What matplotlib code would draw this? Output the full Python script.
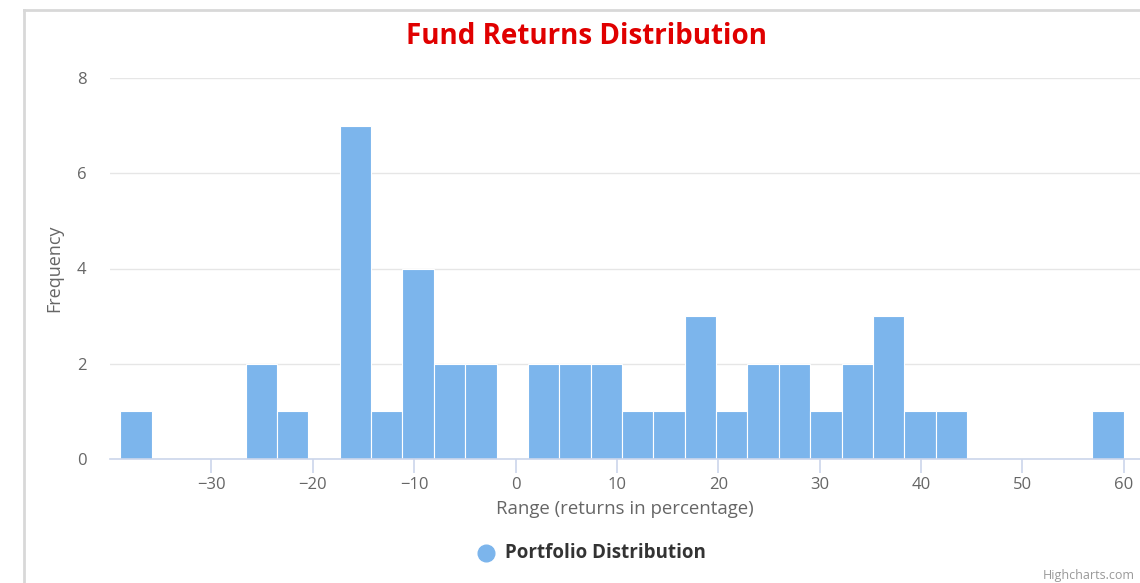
import numpy as np
import matplotlib
matplotlib.use("Agg")
import matplotlib.pyplot as plt
from matplotlib.lines import Line2D

# histogram bins (returns in %) and the count in each bin
bin_start = -39.0
bin_width = 3.09375
counts = [1, 0, 0, 0, 2, 1, 0, 7, 1, 4, 2, 2, 0, 2, 2, 2,
          1, 1, 3, 1, 2, 2, 1, 2, 3, 1, 1, 0, 0, 0, 0, 1]
x_ticks = [-30, -20, -10, 0, 10, 20, 30, 40, 50, 60]
y_ticks = [0, 2, 4, 6, 8]

plt.rcParams['font.family'] = ['Open Sans', 'DejaVu Sans']

fig = plt.figure(figsize=(11.4, 5.83), dpi=100)
W, H = 1140, 583

# outer chart border (cropped screenshot)
fig.add_artist(Line2D([24 / W, 1.0], [1 - 10 / H, 1 - 10 / H], color='#d8d8d8', lw=2))
fig.add_artist(Line2D([24 / W, 24 / W], [0, 1 - 10 / H], color='#d8d8d8', lw=2))

ax = fig.add_axes([110 / W, (H - 459) / H, (W - 110) / W, (459 - 78) / H])

lefts = bin_start + bin_width * np.arange(len(counts))
ax.bar(lefts, counts, width=bin_width, align='edge', color='#7cb5ec',
       edgecolor='#ffffff', linewidth=0.8, zorder=3)

ax.set_xlim(-40, 61.6)
ax.set_ylim(0, 8)
ax.set_xticks(x_ticks)
ax.set_xticklabels([str(t).replace('-', '\u2212') for t in x_ticks])
ax.set_yticks(y_ticks)

for s in ['top', 'right', 'left']:
    ax.spines[s].set_visible(False)
ax.spines['bottom'].set_color('#ccd6eb')
ax.spines['bottom'].set_linewidth(1.2)
ax.spines['bottom'].set_zorder(4)

ax.grid(axis='y', color='#e6e6e6', linewidth=1, zorder=0)
ax.tick_params(axis='x', colors='#ccd6eb', length=10, width=1.2, labelcolor='#666666',
               labelsize=12, pad=3)
ax.tick_params(axis='y', length=0, labelcolor='#666666', labelsize=12, pad=17)

ax.set_xlabel('Range (returns in percentage)', color='#666666', fontsize=13.4, labelpad=5)
ax.set_ylabel('Frequency', color='#666666', fontsize=13, labelpad=10)

fig.text(587 / W, 1 - 37 / H, 'Fund Returns Distribution', color='#e00000',
         fontsize=20, fontweight='bold', ha='center', va='center')

# legend
fig.add_artist(Line2D([486 / W], [1 - 553 / H], marker='o', markersize=12,
                      color='#7cb5ec', linestyle='none'))
fig.text(505 / W, 1 - 553 / H, 'Portfolio Distribution', color='#333333',
         fontsize=13.5, fontweight='bold', ha='left', va='center')

fig.text(1135 / W, 1 - 582 / H, 'Highcharts.com', color='#999999', fontsize=9,
         ha='right', va='bottom')

fig.savefig('out.png', dpi=100)
